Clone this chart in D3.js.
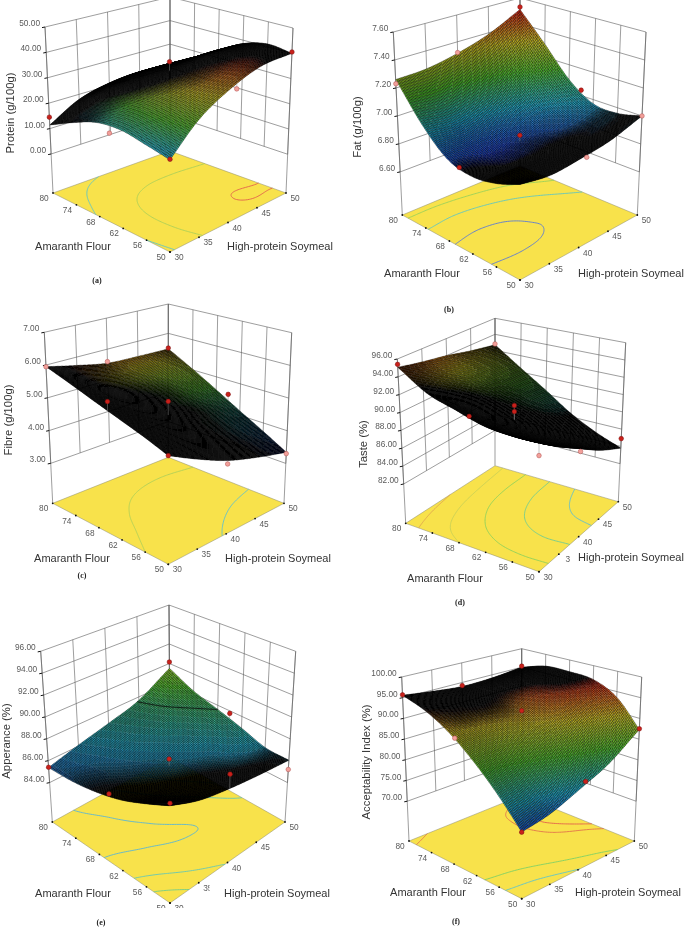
<!DOCTYPE html>
<html><head><meta charset="utf-8">
<script src="https://cdn.jsdelivr.net/npm/d3@7/dist/d3.min.js"></script>
<style>
html,body{margin:0;padding:0;background:#fff}
svg{display:block;filter:blur(0.35px)}
text{font-family:"Liberation Sans",Arial,sans-serif}
</style></head><body>
<svg id="c" width="685" height="927" viewBox="0 0 685 927"></svg>
<script>
// ---------- DATA ----------
const amaranthTicks = [50, 56, 62, 68, 74, 80];
const soymealTicks = [30, 35, 40, 45, 50];
const xTitleA = "Amaranth Flour";
const xTitleS = "High-protein Soymeal";

// Response heights: one row per amaranth tick, one column per soymeal tick.
const proteinZ = [
 [18.3,29,35.5,39.6,40],[20,30.5,37,40.9,41.1],[21.5,30.5,36,39,38.6],
 [20.5,28.5,32.5,33.5,33],[16.5,24.5,27.5,28,27],[11.4,18,21,22,21]];
const fatZ = [
 [6.92,6.885,6.90,6.93,7.00],[6.85,6.845,6.855,6.89,6.96],[6.82,6.80,6.835,6.88,6.97],
 [6.86,6.85,6.88,6.96,7.09],[7.02,7.00,7.04,7.13,7.30],[7.26,7.27,7.315,7.39,7.51]];
const fibreZ = [
 [4.76,4.31,3.90,3.60,3.34],[5.00,4.56,4.18,3.92,3.74],[5.22,4.80,4.45,4.25,4.14],
 [5.45,5.02,4.72,4.56,4.58],[5.70,5.30,5.05,4.95,5.03],[5.95,5.74,5.55,5.50,5.47]];
const tasteZ = [
 [90.9,89.0,87.2,85.35,83.8],[90.85,88.9,87.2,85.9,84.9],[91.1,89.3,87.9,87.0,86.4],
 [92.0,90.3,89.2,88.6,88.45],[93.0,91.9,91.0,90.6,90.5],[95.07,94.5,94.0,93.3,92.7]];
const appearanceZ = [
 [88.3,87.3,86.76,86.37,86.05],[87.3,86.6,86.2,86.0,86.15],[86.4,86.0,85.85,86.1,86.9],
 [85.8,85.75,86.0,86.6,87.6],[85.45,85.8,86.4,87.2,88.3],[85.37,86.1,86.8,87.67,89.5]];
const acceptabilityZ = [
 [74.8,76.1,78.8,82.0,87.3],[80.6,82.0,85.0,89.0,93.6],[85.8,87.2,90.0,94.0,96.5],
 [90.3,91.0,92.5,95.8,97.0],[93.6,93.2,93.6,95.5,96.9],[95.6,94.7,94.0,94.2,95.0]];

// Visible design points: amaranth, soymeal, response, above the surface (1) or below it (0).
const proteinPoints = [[80,30,14.5,1],[50,30,18.5,1],[50,50,40.5,1],[65,40,38,1],[65,30,18.5,0],[50,41,34.5,0]];
const fatPoints = [[80,30,7.23,0],[80,40,7.32,0],[80,50,7.53,1],[65,50,7.04,1],[50,50,7.0,0],[65,30,6.84,1],[65,40,6.89,1],[50,41,6.89,0]];
const fibrePoints = [[80,30,5.95,0],[80,40,5.6,0],[80,50,5.5,1],[65,30,5.6,1],[65,40,5.0,1],[65,50,4.55,1],[50,30,4.76,1],[50,40,3.8,0],[50,50,3.3,0]];
const tastePoints = [[80,30,95.4,1],[65,30,91.7,1],[80,50,92.8,0],[65,40,90.1,1],[65,40,89.4,1],[50,30,89.6,0],[50,40,86.9,0],[50,50,84.9,1]];
const appearancePoints = [[80,30,85.4,1],[80,50,90.15,1],[65,50,87.76,1],[65,30,86.3,1],[65,40,86.5,1],[50,30,88.5,1],[50,40,88.0,1],[50,50,85.2,0]];
const acceptabilityPoints = [[80,30,95.7,1],[80,40,94.2,1],[80,50,95.3,1],[67,30,89.8,0],[65,40,92.5,1],[50,50,87.5,1],[50,41,80,1],[50,30,74.8,1]];

const proteinTicks = [0,10,20,30,40,50];
const fatTicks = [6.6,6.8,7.0,7.2,7.4,7.6];
const fibreTicks = [3,4,5,6,7];
const tasteTicks = [82,84,86,88,90,92,94,96];
const appearanceTicks = [84,86,88,90,92,94,96];
const acceptabilityTicks = [70,75,80,85,90,95,100];

// Contour levels on the base plane.
const proteinLevels = [20,30,40.9];
const fatLevels = [6.84,7.0,7.2];
const fibreLevels = [3.95,5];
const tasteLevels = [86,88,90,92,94];
const appearanceLevels = [85.9,86.8,87.6];
const acceptabilityLevels = [79,84,95,96.3];
// Contour lines drawn on the surface itself.
const appearanceSurfaceLevels = [87.6];

// ---------- LAYOUT ----------
const panels = [
 {z:proteinZ,pts:proteinPoints,ticks:proteinTicks,levels:proteinLevels,title:"Protein (g/100g)",cap:"(a)",
  zDomain:[-15.35,50],cDomain:[12,41],
  floor:{L:[53,193],N:[170,252],R:[286,193],B:[170,151]},top:{L:[45,27],N:[170,73],R:[293,28],B:[170,-3]},
  titlePos:[9.5,113],aPos:[73,246],sPos:[280,246],capPos:[97,280]},
 {z:fatZ,pts:fatPoints,ticks:fatTicks,levels:fatLevels,title:"Fat (g/100g)",cap:"(b)",
  zDomain:[6.292,7.6],cDomain:[6.8,7.5],
  floor:{L:[402.3,215],N:[520,280],R:[637.3,215],B:[520,166]},top:{L:[393.3,32],N:[520,81],R:[646,32],B:[520,-2]},
  titlePos:[357,127],aPos:[422,273],sPos:[631,273],capPos:[449,309]},
 {z:fibreZ,pts:fibrePoints,ticks:fibreTicks,levels:fibreLevels,title:"Fibre (g/100g)",cap:"(c)",
  zDomain:[1.78,7],cDomain:[3.3,6],
  floor:{L:[52.7,503.3],N:[168.3,564.3],R:[284,503.3],B:[168.3,457.3]},top:{L:[44.3,332.3],N:[168.3,374],R:[291.7,332.7],B:[168.3,304]},
  titlePos:[8,420],aPos:[72,558],sPos:[278,558],capPos:[82,575]},
 {z:tasteZ,pts:tastePoints,ticks:tasteTicks,levels:tasteLevels,title:"Taste (%)",cap:"(d)",
  zDomain:[77.6,96],cDomain:[83,96],
  floor:{L:[405.7,523.3],N:[539,571.7],R:[618.3,501.7],B:[495,465.7]},top:{L:[397.3,359],N:[539,393.7],R:[625.7,342.7],B:[495,318.3]},
  titlePos:[363,444],aPos:[445,578],sPos:[631,557],capPos:[460,602],soyOverride:{35:"3"}},
 {z:appearanceZ,pts:appearancePoints,ticks:appearanceTicks,levels:appearanceLevels,surfLevels:appearanceSurfaceLevels,title:"Apperance (%)",cap:"(e)",
  zDomain:[80.4,96],cDomain:[84,93],
  floor:{L:[52.3,822],N:[170,903],R:[285,822],B:[170,757]},top:{L:[40.7,651.3],N:[170,711],R:[295.7,651.3],B:[169,605]},
  titlePos:[6,741],aPos:[73,893],sPos:[277,893],capPos:[101,922],
  masks:[[145,908,50,19],[209.5,880,10,15]]},
 {z:acceptabilityZ,pts:acceptabilityPoints,ticks:acceptabilityTicks,levels:acceptabilityLevels,title:"Acceptability Index (%)",cap:"(f)",
  zDomain:[60.4,100],cDomain:[73,96],
  floor:{L:[409,841],N:[521.7,898.7],R:[634.3,841],B:[521.7,795.5]},top:{L:[401.7,677],N:[521.7,715.7],R:[641.7,677],B:[521.7,648.7]},
  titlePos:[366,762],aPos:[428,892],sPos:[628,892],capPos:[456,921]}
];

const CELLS = 96;
const aToU = d3.scaleLinear().domain([50,80]).range([0,1]);
const sToV = d3.scaleLinear().domain([30,50]).range([0,1]);
const ramp = d3.scaleLinear()
  .domain([0,.25,.5,.75,1])
  .range(["#1c2fd8","#22b0d0","#52c430","#d0c024","#d82a18"]).clamp(true);
const wallColor = "#5c5c5c";
// A mesh cell squeezed on screen reads as black, an open one shows its colour.
const openness = d3.scaleLinear().domain([1.32,2.0]).range([0,.92]).clamp(true);
const svg = d3.select("#c");

// Spline through the read grid, only to draw a smooth mesh between the read heights.
function spline(v,t){
  const n=v.length-1, s=Math.min(Math.floor(t*n),n-1), f=t*n-s;
  const p1=v[s],p2=v[s+1];
  const p0=s>0?v[s-1]:2*p1-p2, p3=s+2<=n?v[s+2]:2*p2-p1;
  return .5*((2*p1)+(-p0+p2)*f+(2*p0-5*p1+4*p2-p3)*f*f+(-p0+3*p1-3*p2+p3)*f*f*f);
}
const heightAt=(grid,u,v)=>spline(grid.map(r=>spline(r,v)),u);

panels.forEach(p=>{
  const g=svg.append("g");
  const zToW=d3.scaleLinear().domain(p.zDomain).range([0,1]);
  const colorOf=d3.scaleLinear().domain(p.cDomain).range([0,1]).clamp(true);
  const c=z=>ramp(colorOf(z));
  const bil=(q,u,v,i)=>q.N[i]*(1-u)*(1-v)+q.L[i]*u*(1-v)+q.R[i]*(1-u)*v+q.B[i]*u*v;
  const projUV=(u,v,w)=>[0,1].map(i=>bil(p.floor,u,v,i)*(1-w)+bil(p.top,u,v,i)*w);
  const proj=(A,S,z)=>projUV(aToU(A),sToV(S),zToW(z));
  const line=d3.line();
  const zLo=d3.min(p.ticks), zHi=d3.max(p.ticks), zFloor=p.zDomain[0];

  // back walls
  const wall=g.append("g").attr("fill","none").attr("stroke",wallColor).attr("stroke-width",.6);
  wall.selectAll(".h").data(p.ticks).join("path").attr("class","h")
    .attr("d",z=>line([proj(80,30,z),proj(80,50,z),proj(50,50,z)]));
  wall.selectAll(".vs").data(soymealTicks).join("path").attr("class","vs")
    .attr("d",s=>line([proj(80,s,zLo),proj(80,s,zHi)]));
  wall.selectAll(".va").data(amaranthTicks).join("path").attr("class","va")
    .attr("d",a=>line([proj(a,50,zLo),proj(a,50,zHi)]));
  wall.append("path").attr("d",line([proj(80,30,zFloor),proj(80,30,zHi)]));
  wall.append("path").attr("d",line([proj(50,50,zFloor),proj(50,50,zHi)]));
  wall.append("path").attr("d",line([proj(80,50,zFloor),proj(80,50,zHi)]));

  // base plane
  g.append("path")
    .attr("d",line([proj(50,30,zFloor),proj(80,30,zFloor),proj(80,50,zFloor),proj(50,50,zFloor)])+"Z")
    .attr("fill","#f8e24b").attr("stroke","#8a8a70").attr("stroke-width",.5);

  // dense heights for contour + mesh
  const N=CELLS+1, dense=new Array(N*N);
  for(let j=0;j<N;j++)for(let i=0;i<N;i++) dense[j*N+i]=heightAt(p.z,j/CELLS,i/CELLS);

  const ctr=d3.contours().size([N,N]).smooth(true);
  const inside=q=>q[0]>=.5&&q[0]<=N-.5&&q[1]>=.5&&q[1]<=N-.5;

  // contours on the base plane
  const cg=g.append("g").attr("fill","none").attr("stroke-width",.85);
  ctr.thresholds(p.levels)(dense).forEach(ct=>{
    const col=d3.interpolateRgb(c(ct.value),"#ffffff")(.22);
    ct.coordinates.forEach(poly=>poly.forEach(ring=>{
      const l=d3.line().defined(inside)
        .x(q=>projUV((q[1]-.5)/CELLS,(q[0]-.5)/CELLS,0)[0])
        .y(q=>projUV((q[1]-.5)/CELLS,(q[0]-.5)/CELLS,0)[1]);
      cg.append("path").attr("d",l(ring)).attr("stroke",col);
    }));
  });

  // z axis ticks and labels
  const zAxis=g.append("g");
  zAxis.selectAll("line").data(p.ticks).join("line")
    .attr("x1",z=>proj(80,30,z)[0]).attr("x2",z=>proj(80,30,z)[0]-3)
    .attr("y1",z=>proj(80,30,z)[1]).attr("y2",z=>proj(80,30,z)[1]+.6)
    .attr("stroke","#111").attr("stroke-width",1);
  zAxis.selectAll("text").data(p.ticks).join("text")
    .attr("x",z=>proj(80,30,z)[0]-5).attr("y",z=>proj(80,30,z)[1]-1)
    .attr("text-anchor","end").attr("font-size",8.3).attr("fill","#5a5a5a")
    .text(z=>z.toFixed(2));

  // surface mesh, painted from the far corner to the near one
  const bins=40, shades=10, runs=[];
  let cur=null;
  const idx=(j,i)=>j*N+i;
  const cellScale=(CELLS/100)*(CELLS/100);
  for(let j=CELLS-1;j>=0;j--){
    for(let i=CELLS-1;i>=0;i--){
      const mean=(dense[idx(j,i)]+dense[idx(j+1,i)]+dense[idx(j,i+1)]+dense[idx(j+1,i+1)])/4;
      const a=projUV(j/CELLS,i/CELLS,zToW(dense[idx(j,i)]));
      const b=projUV((j+1)/CELLS,i/CELLS,zToW(dense[idx(j+1,i)]));
      const d=projUV((j+1)/CELLS,(i+1)/CELLS,zToW(dense[idx(j+1,i+1)]));
      const e=projUV(j/CELLS,(i+1)/CELLS,zToW(dense[idx(j,i+1)]));
      const area=Math.abs(d3.polygonArea([a,b,d,e]))*cellScale;
      const bin=Math.round(colorOf(mean)*bins), sh=Math.round(openness(area)*shades);
      const key=bin*100+sh;
      if(!cur||cur.key!==key){cur={key,bin,sh,path:d3.path()};runs.push(cur);}
      cur.path.moveTo(a[0],a[1]);cur.path.lineTo(b[0],b[1]);cur.path.lineTo(d[0],d[1]);cur.path.lineTo(e[0],e[1]);cur.path.closePath();
    }
  }
  g.append("g").attr("stroke","#000").attr("stroke-width",.3).attr("stroke-linejoin","bevel")
    .selectAll("path").data(runs).join("path")
    .attr("d",r=>r.path.toString())
    .attr("fill",r=>d3.interpolateRgb("#000",ramp(r.bin/bins))(r.sh/shades));

  // contour lines on the surface
  if(p.surfLevels){
    const sg=g.append("g").attr("fill","none").attr("stroke","#0a0a0a").attr("stroke-width",.8);
    ctr.thresholds(p.surfLevels)(dense).forEach(ct=>{
      const w=zToW(ct.value);
      ct.coordinates.forEach(poly=>poly.forEach(ring=>{
        const l=d3.line().defined(inside)
          .x(q=>projUV((q[1]-.5)/CELLS,(q[0]-.5)/CELLS,w)[0])
          .y(q=>projUV((q[1]-.5)/CELLS,(q[0]-.5)/CELLS,w)[1]);
        sg.append("path").attr("d",l(ring));
      }));
    });
  }

  // design points
  const mg=g.append("g");
  mg.selectAll("line").data(p.pts).join("line")
    .attr("x1",d=>proj(d[0],d[1],d[2])[0]).attr("y1",d=>proj(d[0],d[1],d[2])[1])
    .attr("x2",d=>projUV(aToU(d[0]),sToV(d[1]),zToW(heightAt(p.z,aToU(d[0]),sToV(d[1]))))[0])
    .attr("y2",d=>projUV(aToU(d[0]),sToV(d[1]),zToW(heightAt(p.z,aToU(d[0]),sToV(d[1]))))[1])
    .attr("stroke","#888").attr("stroke-width",.5);
  mg.selectAll("circle").data(p.pts).join("circle")
    .attr("cx",d=>proj(d[0],d[1],d[2])[0]).attr("cy",d=>proj(d[0],d[1],d[2])[1])
    .attr("r",2.3).attr("fill",d=>d[3]?"#c9211b":"#f2a09a").attr("stroke",d=>d[3]?"#7a1010":"#b05050").attr("stroke-width",.5);

  // base axes: ticks and labels
  const tA=g.append("g"), tS=g.append("g");
  tA.selectAll("circle").data(amaranthTicks).join("circle")
    .attr("cx",a=>proj(a,30,zFloor)[0]).attr("cy",a=>proj(a,30,zFloor)[1]).attr("r",.9).attr("fill","#111");
  tS.selectAll("circle").data(soymealTicks).join("circle")
    .attr("cx",s=>proj(50,s,zFloor)[0]).attr("cy",s=>proj(50,s,zFloor)[1]).attr("r",.9).attr("fill","#111");
  tA.selectAll("text").data(amaranthTicks).join("text")
    .attr("x",a=>proj(a,30,zFloor)[0]-9).attr("y",a=>proj(a,30,zFloor)[1]+8)
    .attr("text-anchor","middle").attr("font-size",8.3).attr("fill","#5a5a5a").text(a=>a);
  tS.selectAll("text").data(soymealTicks).join("text")
    .attr("x",s=>proj(50,s,zFloor)[0]+9).attr("y",s=>proj(50,s,zFloor)[1]+8)
    .attr("text-anchor","middle").attr("font-size",8.3).attr("fill","#5a5a5a")
    .text(s=>(p.soyOverride&&p.soyOverride[s])||s);

  // masks over clipped labels
  (p.masks||[]).forEach(m=>g.append("rect").attr("x",m[0]).attr("y",m[1]).attr("width",m[2]).attr("height",m[3]).attr("fill","#fff"));

  // titles
  g.append("text").attr("transform",`translate(${p.titlePos[0]+4},${p.titlePos[1]}) rotate(-90)`)
    .attr("text-anchor","middle").attr("font-size",11.3).attr("fill","#333").text(p.title);
  g.append("text").attr("x",p.aPos[0]).attr("y",p.aPos[1]+4).attr("text-anchor","middle")
    .attr("font-size",11).attr("fill","#333").text(xTitleA);
  g.append("text").attr("x",p.sPos[0]).attr("y",p.sPos[1]+4).attr("text-anchor","middle")
    .attr("font-size",11).attr("fill","#333").text(xTitleS);
  g.append("text").attr("x",p.capPos[0]).attr("y",p.capPos[1]+2.5).attr("text-anchor","middle")
    .attr("font-size",8).attr("font-weight","bold").attr("fill","#222")
    .style("font-family","'Liberation Serif',serif").text(p.cap);
});
</script>
</body></html>
